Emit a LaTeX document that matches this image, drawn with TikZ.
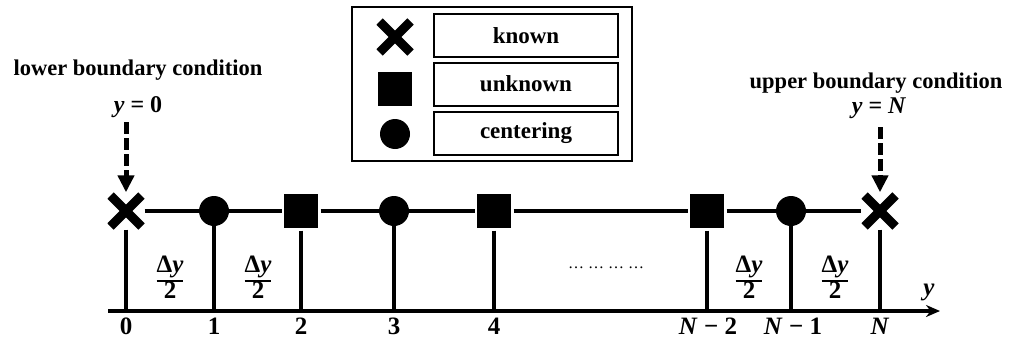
\documentclass[tikz,border=0pt]{standalone}
\usepackage{fontspec}
\setmainfont{Liberation Serif}
\usetikzlibrary{arrows.meta}
\newcommand\dyhalf{{\setlength{\arrayrulewidth}{2.8pt}\renewcommand{\arraystretch}{0.8}\begin{tabular}{@{}c@{}}Δ\textit{y}\\\hline 2\end{tabular}}}
\begin{document}
\begin{tikzpicture}[x=1pt,y=-1pt,
  mainline/.style={line width=3.4pt},
  sq/.style={fill=black, minimum size=34pt, inner sep=0pt, outer sep=2.5pt},
  cir/.style={circle, fill=black, minimum size=30pt, inner sep=0pt},
  xm/.style={minimum size=37pt, inner sep=0pt, fill=white,
    path picture={
      \draw[line width=9pt] ([shift={(3pt,-3pt)}]path picture bounding box.north west) -- ([shift={(-3pt,3pt)}]path picture bounding box.south east);
      \draw[line width=9pt] ([shift={(3pt,3pt)}]path picture bounding box.south west) -- ([shift={(-3pt,-3pt)}]path picture bounding box.north east);}},
  lbox/.style={draw, line width=2pt, minimum width=184pt, minimum height=43pt, inner sep=0pt, font=\fontsize{23}{26}\selectfont\bfseries},
  bclabel/.style={font=\fontsize{22.5}{26}\selectfont\bfseries, anchor=base},
  num/.style={font=\fontsize{25}{28}\selectfont\bfseries},
  frac/.style={font=\fontsize{25}{28}\selectfont\bfseries},
  dasharrow/.style={line width=5pt, dash pattern=on 12pt off 4pt, -{Triangle[length=17pt,width=16pt]}}
]
\useasboundingbox (0,0) rectangle (1011,340);

% legend
\node[draw, line width=2.2pt, minimum width=280pt, minimum height=154pt, inner sep=0pt] (legend) at (492,84) {};
\node[lbox] (lk) at (526,35.5) {known};
\node[lbox] (lu) at (526,84) {unknown};
\node[lbox] (lc) at (526,133) {centering};
\node[xm] (lx) at (395,37) {};
\node[sq] (ls) at (395,89) {};
\node[cir] (lci) at (395,134) {};

% grid nodes
\node[xm] (x0) at (126,211) {};
\node[cir] (c1) at (214,211) {};
\node[sq] (s2) at (301,211) {};
\node[cir] (c3) at (394,211) {};
\node[sq] (s4) at (494,211) {};
\node[sq] (sN2) at (707,211) {};
\node[cir] (cN1) at (791,211) {};
\node[xm] (xN) at (880,211) {};

\draw[mainline] (x0) -- (c1);
\draw[mainline] (c1) -- (s2);
\draw[mainline] (s2) -- (c3);
\draw[mainline] (c3) -- (s4);
\draw[mainline] (s4) -- (sN2);
\draw[mainline] (sN2) -- (cN1);
\draw[mainline] (cN1) -- (xN);

% axis
\coordinate (ax0) at (108,311);
\coordinate (axE) at (940,311);
\coordinate (a0) at (126,311);
\coordinate (a1) at (214,311);
\coordinate (a2) at (301,311);
\coordinate (a3) at (394,311);
\coordinate (a4) at (494,311);
\coordinate (aN2) at (707,311);
\coordinate (aN1) at (791,311);
\coordinate (aN) at (880,311);
\draw[mainline, -{Stealth[length=14pt,width=12pt]}] (ax0) -- (axE);
\node[font=\fontsize{25}{28}\selectfont\bfseries\itshape] (ylab) at (929,292) {y};

\draw[mainline] (x0.south) -- (a0);
\draw[mainline] (c1) -- (a1);
\draw[mainline] (s2) -- (a2);
\draw[mainline] (c3) -- (a3);
\draw[mainline] (s4) -- (a4);
\draw[mainline] (sN2) -- (aN2);
\draw[mainline] (cN1) -- (aN1);
\draw[mainline] (xN.south) -- (aN);

% numbers
\node[num] (n0) at (126,326) {0};
\node[num] (n1) at (214,326) {1};
\node[num] (n2) at (301,326) {2};
\node[num] (n3) at (394,326) {3};
\node[num] (n4) at (494,326) {4};
\node[num] (nN2) at (708,326) {\textit{N} − 2};
\node[num] (nN1) at (793,326) {\textit{N} − 1};
\node[num] (nN) at (880,326) {\textit{N}};

% fractions
\node[frac] (f1) at (170,281) {\dyhalf};
\node[frac] (f2) at (258,281) {\dyhalf};
\node[frac] (f3) at (749,281) {\dyhalf};
\node[frac] (f4) at (835,281) {\dyhalf};

\node[font=\fontsize{16}{18}\selectfont] (dots) at (606,268) {… … … …};

% boundary labels
\node[bclabel] (lbc) at (138,75) {lower boundary condition};
\node[bclabel, font=\fontsize{24}{28}\selectfont\bfseries] (lbeq) at (138,112) {\textit{y} = 0};
\node[bclabel] (ubc) at (876,88) {upper boundary condition};
\node[bclabel, font=\fontsize{24}{28}\selectfont\bfseries] (ubeq) at (879,113) {\textit{y} = \textit{N}};
\coordinate (lstart) at (126,122);
\coordinate (ustart) at (880,127);
\draw[dasharrow] (lstart) -- (x0.north);
\draw[dasharrow] (ustart) -- (xN.north);
\end{tikzpicture}
\end{document}
